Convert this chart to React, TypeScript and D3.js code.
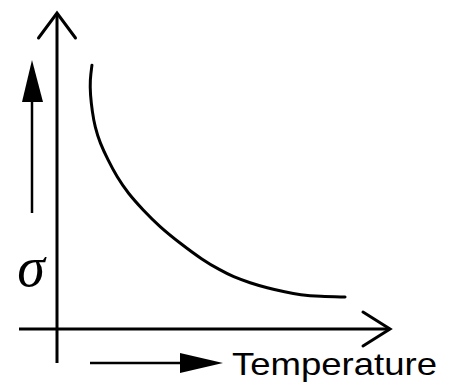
import React from "react";
import * as d3 from "d3";

// Curve: temperature (x) vs sigma (y), arbitrary units 0..100
const temperature = [10.5, 9.9, 10.0, 10.6, 11.4, 12.9, 15.3, 18.0, 21.3, 25.8, 30.9, 36.9, 43.8, 48.9, 52.9, 58.0, 63.1, 68.5, 73.0, 79.0, 86.5];
const sigma = [83.5, 78.8, 74.1, 68.7, 63.9, 58.9, 53.5, 48.1, 43.0, 37.7, 32.3, 27.2, 21.8, 18.7, 16.5, 14.6, 13.0, 11.7, 10.8, 10.3, 10.1];

const xLabel = "Temperature";
const yLabel = "σ";

const W = 457;
const H = 391;

export default function App() {
  const x = d3.scaleLinear().domain([0, 100]).range([57, 390]);
  const y = d3.scaleLinear().domain([0, 100]).range([329, 13]);

  const pts: [number, number][] = temperature.map((t, i) => [x(t), y(sigma[i])]);
  const line = d3.line().curve(d3.curveBasis)(pts) || "";

  const sw = 3;
  return (
    <svg width={W} height={H} style={{ position: "absolute", left: 0, top: 0, background: "#fff" }}>
      {/* y axis */}
      <line x1={x(0)} y1={363} x2={x(0)} y2={y(100)} stroke="#000" strokeWidth={sw} />
      <polyline points={`${x(0) - 18.5},38 ${x(0)},${y(100)} ${x(0) + 18.5},38`} fill="none" stroke="#000" strokeWidth={sw} strokeLinecap="round" strokeLinejoin="miter" />
      {/* x axis */}
      <line x1={19} y1={y(0)} x2={x(100)} y2={y(0)} stroke="#000" strokeWidth={sw} />
      <polyline points={`${x(100) - 27},${y(0) - 17} ${x(100)},${y(0)} ${x(100) - 27},${y(0) + 17}`} fill="none" stroke="#000" strokeWidth={sw} strokeLinecap="round" />
      {/* curve */}
      <path d={line} fill="none" stroke="#000" strokeWidth={3} strokeLinecap="round" />
      {/* left arrow */}
      <line x1={32} y1={213} x2={32} y2={100} stroke="#000" strokeWidth={2.5} />
      <polygon points="32,60 22,102 43,102" fill="#000" />
      {/* sigma label */}
      <text x={31} y={286} textAnchor="middle" fontFamily="Liberation Serif" fontStyle="italic" fontSize={56} fill="#000">{yLabel}</text>
      {/* bottom arrow */}
      <line x1={90} y1={363} x2={185} y2={363} stroke="#000" strokeWidth={2.5} />
      <polygon points="223,363 180,353 180,373" fill="#000" />
      <text x={232} y={375} fontFamily="Liberation Sans, Arial, sans-serif" fontSize={32} textLength={205} lengthAdjust="spacingAndGlyphs" fill="#000">{xLabel}</text>
    </svg>
  );
}
